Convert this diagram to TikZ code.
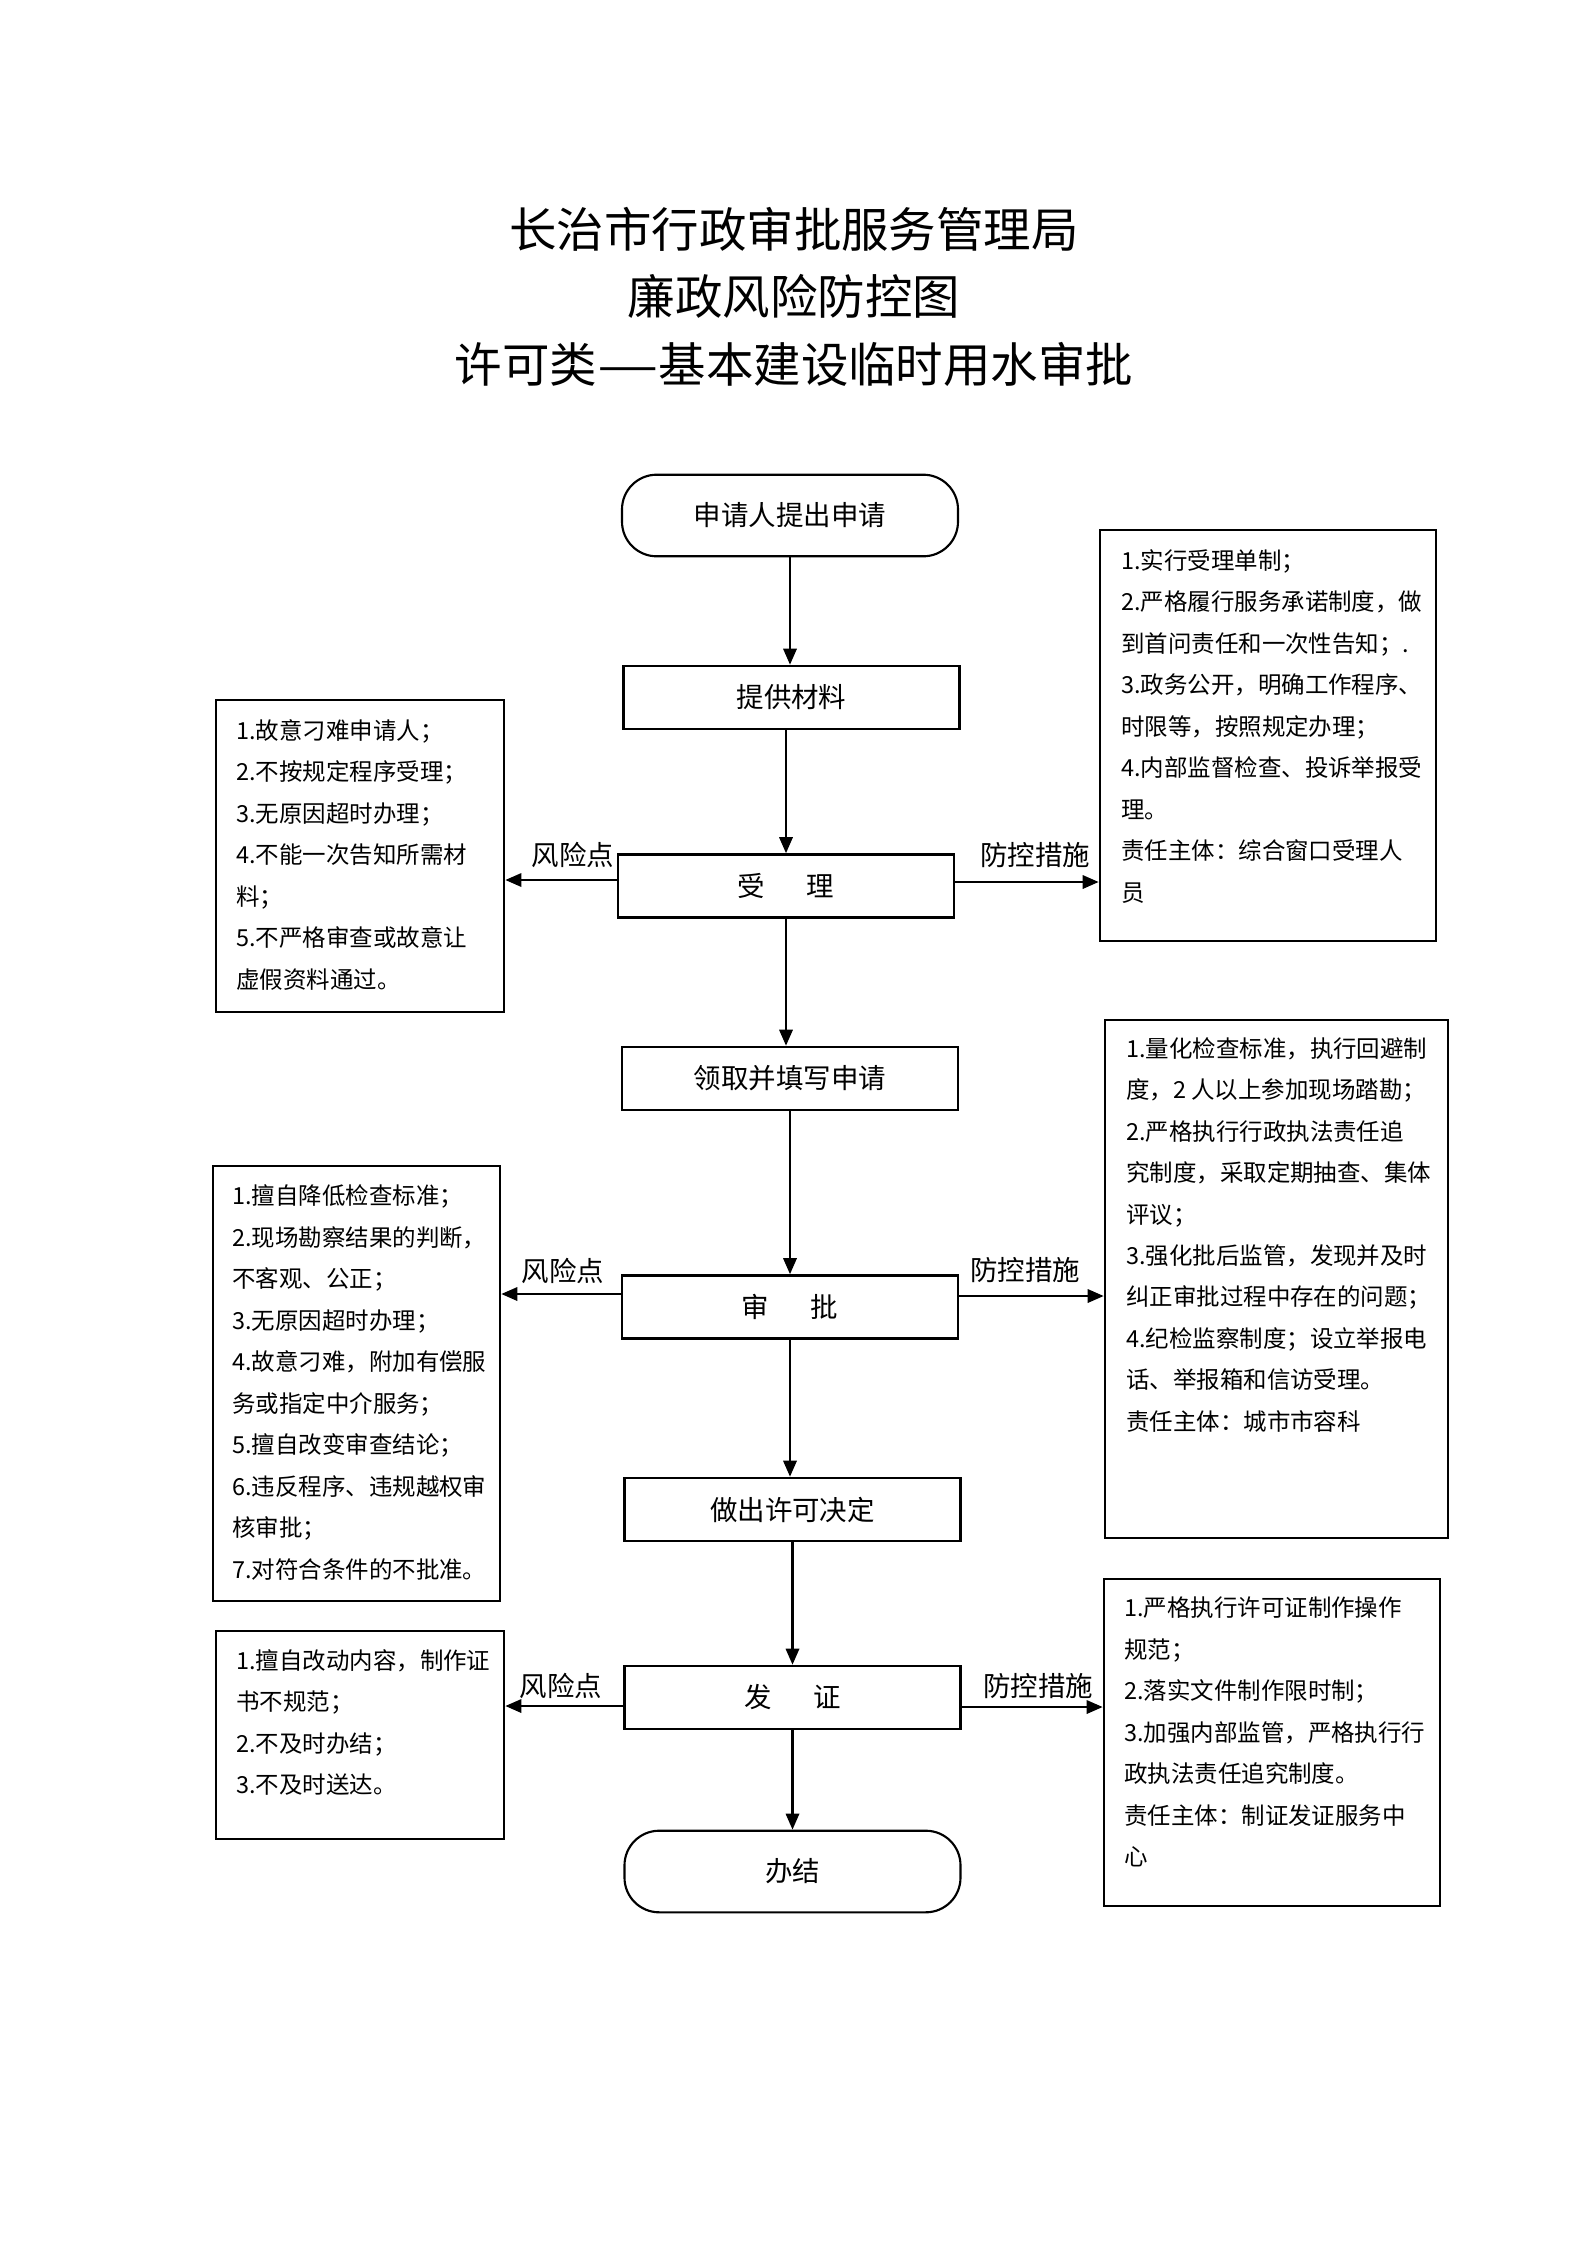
\documentclass[tikz,border=0pt]{standalone}
\usepackage{graphicx}
\usepackage{fontspec}
\setmainfont{Noto Sans CJK SC}
\usetikzlibrary{arrows.meta,calc}
\begin{document}
\begin{tikzpicture}[x=0.375pt,y=-0.375pt,
  ttl/.style={inner sep=0pt,font=\fontsize{17.8}{20}\selectfont},
  flow/.style={draw,line width=1pt,minimum width=126pt,minimum height=23.6pt,inner sep=0pt,font=\fontsize{10.3}{12}\selectfont},
  term/.style={flow,rounded corners=13pt,minimum height=30.6pt,line width=0.8pt},
  side/.style={draw,line width=1pt,inner sep=0pt},
  stext/.style={anchor=north west,align=left,inner sep=0pt,font=\fontsize{8.8}{15.56}\selectfont},
  lbl/.style={inner sep=0pt,font=\fontsize{10.3}{12}\selectfont},
  arr/.style={line width=0.85pt,-{Triangle[length=6pt,width=5pt]}},
]
\useasboundingbox (0,0) rectangle (1587,2245);
\fill[white] (0,0) rectangle (1587,2245);

% title
\node[ttl] (t1) at (794,229) {长治市行政审批服务管理局};
\node[ttl] (t2) at (794,296) {廉政风险防控图};
\node[ttl] (t3) at (794,364) {许可类\scalebox{1.45}[1]{—}基本建设临时用水审批};

% main flow
\node[term] (start) at (790,515.5) {申请人提出申请};
\node[flow] (tigong) at (791.5,697.5) {提供材料};
\node[flow] (shouli) at (786,886) {受\hspace{1.5em}理};
\node[flow] (lingqu) at (790,1078.5) {领取并填写申请};
\node[flow] (shenpi) at (790,1307) {审\hspace{1.5em}批};
\node[flow] (zuochu) at (792.5,1509.5) {做出许可决定};
\node[flow] (fazheng) at (792.5,1697.5) {发\hspace{1.5em}证};
\node[term] (banjie) at (792.5,1871.5) {办结};

% side boxes
\node[side,minimum width=108pt,minimum height=117pt] (L1) at (360,856) {};
\node[side,minimum width=126pt,minimum height=154.1pt] (R1) at (1268,735.5) {};
\node[side,minimum width=107.6pt,minimum height=163.1pt] (L2) at (356.5,1383.5) {};
\node[side,minimum width=128.6pt,minimum height=194.3pt] (R2) at (1276.5,1279) {};
\node[side,minimum width=108pt,minimum height=78pt] (L3) at (360,1735) {};
\node[side,minimum width=126pt,minimum height=122.6pt] (R3) at (1272,1742.5) {};

\node[stext] (L1t) at ($(L1.north west)+(21,20)$) {1.故意刁难申请人；\\2.不按规定程序受理；\\3.无原因超时办理；\\4.不能一次告知所需材\\料；\\5.不严格审查或故意让\\虚假资料通过。};
\node[stext] (R1t) at ($(R1.north west)+(22,20)$) {1.实行受理单制；\\2.严格履行服务承诺制度，做\\到首问责任和一次性告知；.\\3.政务公开，明确工作程序、\\时限等，按照规定办理；\\4.内部监督检查、投诉举报受\\理。\\责任主体：综合窗口受理人\\员};
\node[stext] (L2t) at ($(L2.north west)+(20,19.5)$) {1.擅自降低检查标准；\\2.现场勘察结果的判断，\\不客观、公正；\\3.无原因超时办理；\\4.故意刁难，附加有偿服\\务或指定中介服务；\\5.擅自改变审查结论；\\6.违反程序、违规越权审\\核审批；\\7.对符合条件的不批准。};
\node[stext] (R2t) at ($(R2.north west)+(22,18)$) {1.量化检查标准，执行回避制\\度，2 人以上参加现场踏勘；\\2.严格执行行政执法责任追\\究制度，采取定期抽查、集体\\评议；\\3.强化批后监管，发现并及时\\纠正审批过程中存在的问题；\\4.纪检监察制度；设立举报电\\话、举报箱和信访受理。\\责任主体：城市市容科};
\node[stext] (L3t) at ($(L3.north west)+(21,19)$) {1.擅自改动内容，制作证\\书不规范；\\2.不及时办结；\\3.不及时送达。};
\node[stext] (R3t) at ($(R3.north west)+(21,19)$) {1.严格执行许可证制作操作\\规范；\\2.落实文件制作限时制；\\3.加强内部监管，严格执行行\\政执法责任追究制度。\\责任主体：制证发证服务中\\心};

% labels
\node[lbl] (k1) at (573,855) {风险点};
\node[lbl] (f1) at (1035,855) {防控措施};
\node[lbl] (k2) at (563,1271) {风险点};
\node[lbl] (f2) at (1025,1270) {防控措施};
\node[lbl] (k3) at (561,1686) {风险点};
\node[lbl] (f3) at (1038,1686) {防控措施};

% vertical arrows
\draw[arr] (start.south) -- (start.south |- tigong.north);
\draw[arr] (shouli.north |- tigong.south) -- (shouli.north);
\draw[arr] (shouli.south) -- (shouli.south |- lingqu.north);
\draw[arr] (lingqu.south) -- (lingqu.south |- shenpi.north);
\draw[arr] (shenpi.south) -- (shenpi.south |- zuochu.north);
\draw[arr] (zuochu.south) -- (zuochu.south |- fazheng.north);
\draw[arr] (fazheng.south) -- (fazheng.south |- banjie.north);

% side arrows
\coordinate (s1l) at ($(shouli.west)+(0,-6)$);
\coordinate (s1r) at ($(shouli.east)+(0,-4)$);
\coordinate (s2l) at ($(shenpi.west)+(0,-13)$);
\coordinate (s2r) at ($(shenpi.east)+(0,-11)$);
\coordinate (s3l) at ($(fazheng.west)+(0,8.5)$);
\coordinate (s3r) at ($(fazheng.east)+(0,9.5)$);
\draw[arr] (s1l) -- (s1l -| L1.east);
\draw[arr] (s1r) -- (s1r -| R1.west);
\draw[arr] (s2l) -- (s2l -| L2.east);
\draw[arr] (s2r) -- (s2r -| R2.west);
\draw[arr] (s3l) -- (s3l -| L3.east);
\draw[arr] (s3r) -- (s3r -| R3.west);
\end{tikzpicture}
\end{document}
